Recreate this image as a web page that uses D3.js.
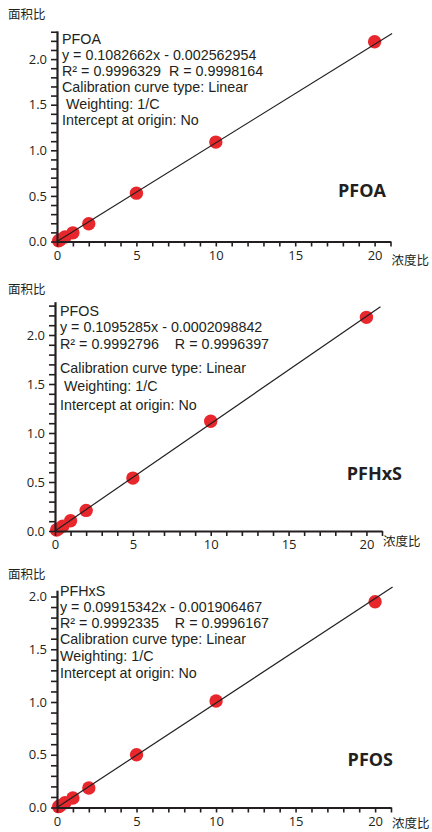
<!DOCTYPE html>
<html>
<head>
<meta charset="utf-8">
<script src="https://cdn.jsdelivr.net/npm/d3@7"></script>
<style>
  html, body { margin: 0; padding: 0; background: #fff; }
  svg { display: block; }
</style>
</head>
<body>
<div id="chart"></div>
<script>
// ---------- data ----------
const concentration = [0.1, 0.2, 0.5, 1, 2, 5, 10, 20];

const panelNames = ["PFOA", "PFHxS", "PFOS"];
const areaRatioA = [0.008, 0.02, 0.05, 0.095, 0.195, 0.53, 1.09, 2.19];
const areaRatioB = [0.01, 0.02, 0.05, 0.105, 0.21, 0.54, 1.12, 2.18];
const areaRatioC = [0.008, 0.018, 0.045, 0.09, 0.185, 0.5, 1.01, 1.95];

const slopes = [0.1082662, 0.1095285, 0.09915342];
const intercepts = [-0.002562954, -0.0002098842, -0.001906467];
const lineEndX = [21.1, 20.9, 21.1];

const infoTexts = [
  ["PFOA", "y = 0.1082662x - 0.002562954", "R\u00b2 = 0.9996329  R = 0.9998164",
   "Calibration curve type: Linear", " Weighting: 1/C", "Intercept at origin: No"],
  ["PFOS", "y = 0.1095285x - 0.0002098842", "R\u00b2 = 0.9992796    R = 0.9996397",
   "Calibration curve type: Linear", " Weighting: 1/C", "Intercept at origin: No"],
  ["PFHxS", "y = 0.09915342x - 0.001906467", "R\u00b2 = 0.9992335    R = 0.9996167",
   "Calibration curve type: Linear", "Weighting: 1/C", "Intercept at origin: No"]
];

const xDomainMax = [21, 21, 21];
const yDomainMax = [2.31, 2.34, 2.06];
const xTickValues = d3.range(0, 22, 1);
const xLabelEvery = 5;
const yLabelEvery = 0.5;
const yAxisTitle = "面积比";
const xAxisTitle = "浓度比";

const seriesValues = [areaRatioA, areaRatioB, areaRatioC];

// ---------- layout ----------
const W = 432, H = 832;
const layout = [
  { x0: 57, x21: 390.5, y0: 241.5, yUnit: 91.2, yTitle: 19, xTitleY: 264.5,
    textBase: [43.5, 59.8, 76.1, 92.4, 108.7, 125], textX: 62,
    big: { x: 386, y: 197 } },
  { x0: 55, x21: 382, y0: 531, yUnit: 98, yTitle: 294, xTitleY: 546,
    textBase: [316, 332.4, 348.7, 372.5, 391, 409.5], textX: 60,
    big: { x: 402, y: 480 } },
  { x0: 57, x21: 391, y0: 807.5, yUnit: 105.5, yTitle: 579, xTitleY: 828,
    textBase: [595.5, 611.8, 628.1, 644.4, 661.2, 678], textX: 60,
    big: { x: 393, y: 766 } }
];

const INK = "#231f20";
const RED = "#e8272d";
const SANS = "'Open Sans', 'Liberation Sans', sans-serif";
const INFO = "'Liberation Sans', Arial, sans-serif";
const CJK = "'Noto Sans CJK SC', sans-serif";

const svg = d3.select("#chart").append("svg")
  .attr("width", W).attr("height", H);

layout.forEach((L, i) => {
  const x = d3.scaleLinear().domain([0, xDomainMax[i]]).range([L.x0, L.x21]);
  const y = d3.scaleLinear().domain([0, yDomainMax[i]])
    .range([L.y0, L.y0 - yDomainMax[i] * L.yUnit]);
  const g = svg.append("g");

  const pts = concentration.map((c, k) => ({ c, v: seriesValues[i][k] }));

  // points
  g.append("g").selectAll("circle").data(pts).join("circle")
    .attr("cx", d => x(d.c)).attr("cy", d => y(d.v))
    .attr("r", 6.7).attr("fill", RED);

  // regression line
  const lineData = [0, lineEndX[i]].map(c => ({ c, v: slopes[i] * c + intercepts[i] }));
  g.append("path").datum(lineData)
    .attr("d", d3.line().x(d => x(d.c)).y(d => y(Math.max(0, d.v))))
    .attr("stroke", INK).attr("stroke-width", 1.2).attr("fill", "none");

  // x axis
  const xAxis = d3.axisBottom(x).tickValues(xTickValues)
    .tickFormat(d => d % xLabelEvery === 0 ? d3.format("d")(d) : "")
    .tickSize(5).tickSizeOuter(0).tickPadding(4);
  const gx = g.append("g").attr("transform", `translate(0,${L.y0})`).call(xAxis);
  gx.select(".domain").attr("stroke", INK).attr("stroke-width", 2.2);
  gx.selectAll(".tick line").attr("stroke", INK).attr("stroke-width", 1.6);
  gx.selectAll(".tick text").attr("fill", INK)
    .style("font-size", "13px").style("font-family", SANS);

  // y axis
  const yTicks = d3.range(0, yDomainMax[i] + 1e-6, 0.1).map(v => Math.round(v * 10) / 10);
  const yAxis = d3.axisLeft(y).tickValues(yTicks)
    .tickFormat(d => Math.abs(d / yLabelEvery - Math.round(d / yLabelEvery)) < 1e-6 ? d3.format(".1f")(d) : "")
    .tickSize(6).tickSizeOuter(0).tickPadding(4);
  const gy = g.append("g").attr("transform", `translate(${L.x0},0)`).call(yAxis);
  gy.select(".domain").attr("stroke", INK).attr("stroke-width", 2.2);
  gy.selectAll(".tick line").attr("stroke", INK).attr("stroke-width", 1.6);
  gy.selectAll(".tick text").attr("fill", INK)
    .style("font-size", "13px").style("font-family", SANS);

  // axis titles
  g.append("text").attr("x", 8).attr("y", L.yTitle).attr("fill", INK)
    .style("font-size", "12.5px").style("font-family", CJK)
    .text(yAxisTitle);
  g.append("text").attr("x", L.x21 + 1).attr("y", L.xTitleY).attr("fill", INK)
    .style("font-size", "12.5px").style("font-family", CJK)
    .text(xAxisTitle);

  // info text block
  g.append("g").selectAll("text").data(infoTexts[i]).join("text")
    .attr("x", L.textX).attr("y", (d, k) => L.textBase[k]).attr("fill", INK)
    .style("font-size", "14.3px").style("font-family", INFO)
    .style("white-space", "pre")
    .text(d => d);

  // big compound label
  g.append("text").attr("x", L.big.x).attr("y", L.big.y)
    .attr("text-anchor", "end").attr("fill", INK)
    .style("font-size", "18px").style("font-weight", "bold").style("font-family", SANS)
    .text(panelNames[i]);
});
</script>
</body>
</html>
